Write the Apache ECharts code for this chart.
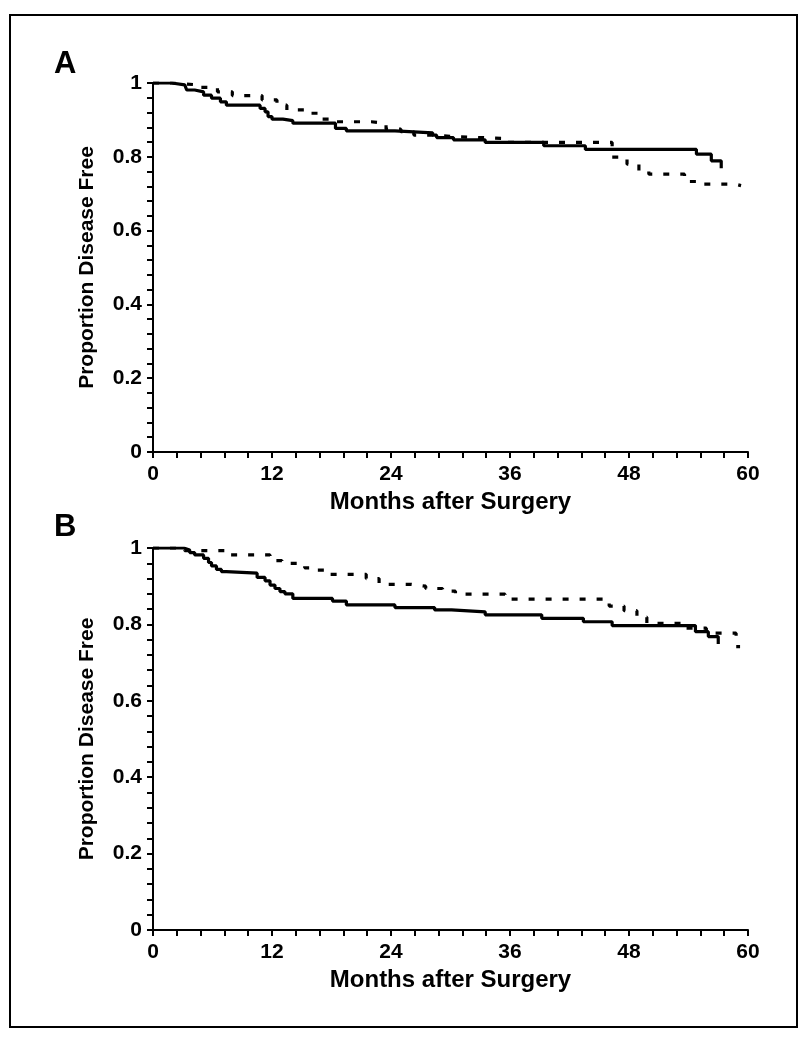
<!DOCTYPE html>
<html><head><meta charset="utf-8">
<script src="https://cdn.jsdelivr.net/npm/echarts@6/dist/echarts.min.js"></script>
<style>html,body{margin:0;padding:0;background:#fff}#c{width:807px;height:1050px}</style>
</head><body><div id="c"></div>
<script>
// Kaplan-Meier step points [month, proportion disease free]
const aSolid = [[0,1],[1.9,0.995],[3.2,0.99],[3.4,0.981],[4.2,0.976],[5.1,0.967],[5.9,0.959],[6.8,0.949],[7.4,0.94],[10.8,0.931],[11.3,0.922],[11.6,0.909],[12.0,0.902],[13.1,0.898],[14.1,0.891],[18.4,0.877],[19.5,0.87],[24.4,0.865],[28.2,0.859],[28.6,0.852],[30.3,0.846],[33.5,0.839],[39.4,0.83],[43.6,0.82],[54.8,0.807],[56.3,0.789],[57.3,0.769]];
const aDashed = [[0,1],[1.9,0.995],[4.5,0.988],[6.5,0.976],[8.0,0.966],[11.0,0.954],[12.5,0.94],[13.5,0.927],[15.5,0.918],[16.8,0.902],[18,0.895],[22,0.891],[23.5,0.875],[25,0.868],[26.3,0.859],[28,0.854],[31,0.85],[35.3,0.839],[46.3,0.799],[47.8,0.78],[49.0,0.76],[50,0.753],[53.6,0.733],[55,0.726],[58.7,0.722],[59.3,0.722]];
const bSolid = [[0,1],[3.1,0.995],[3.7,0.988],[4.2,0.982],[5.1,0.973],[5.6,0.962],[5.9,0.953],[6.4,0.944],[6.9,0.938],[7.4,0.934],[10.5,0.923],[11.3,0.914],[11.8,0.903],[12.3,0.894],[12.8,0.886],[13.3,0.88],[14.1,0.868],[18.1,0.861],[19.5,0.851],[24.4,0.844],[28.4,0.838],[30.1,0.833],[33.5,0.825],[39.2,0.816],[43.4,0.807],[46.3,0.797],[54.7,0.781],[56.0,0.768],[57.0,0.749]];
const bDashed = [[0,1],[3.2,0.993],[7.8,0.982],[11.8,0.967],[13,0.96],[15.3,0.948],[16.2,0.942],[17.5,0.931],[21.5,0.92],[22.8,0.905],[26,0.9],[27.5,0.894],[29.2,0.887],[30.5,0.879],[35.5,0.866],[46,0.848],[47.5,0.836],[48.8,0.819],[49.8,0.803],[53.5,0.79],[55.8,0.777],[58.8,0.742],[59.2,0.742]];
const panelLabels = ['A','B'];
const xTitle = 'Months after Surgery';
const yTitle = 'Proportion Disease Free';

const FONT = '"Liberation Sans", Arial, Helvetica, sans-serif';
const chart = echarts.init(document.getElementById('c'), null, {renderer:'canvas'});
const grids = [
  {left:153, top:83, width:595, height:369},
  {left:153, top:548, width:595, height:382}
];
function xAx(i){
  return {gridIndex:i, type:'value', min:0, max:60, interval:12,
    name:xTitle, nameLocation:'middle', nameGap:38,
    nameTextStyle:{color:'#000', fontSize:24, fontWeight:'bold', fontFamily:FONT},
    axisLine:{lineStyle:{color:'#000', width:2}},
    axisTick:{show:true, length:6, lineStyle:{color:'#000', width:2}},
    minorTick:{show:true, splitNumber:5, length:6, lineStyle:{color:'#000', width:2}},
    splitLine:{show:false},
    axisLabel:{color:'#000', fontSize:21, fontWeight:'bold', fontFamily:FONT, margin:12}
  };
}
function yAx(i){
  return {gridIndex:i, type:'value', min:0, max:1, interval:0.2,
    name:yTitle, nameLocation:'middle', nameGap:55,
    nameTextStyle:{color:'#000', fontSize:21, fontWeight:'bold', fontFamily:FONT},
    axisLine:{show:true, lineStyle:{color:'#000', width:2}},
    axisTick:{show:true, length:6, lineStyle:{color:'#000', width:2}},
    minorTick:{show:true, splitNumber:5, length:6, lineStyle:{color:'#000', width:2}},
    splitLine:{show:false},
    axisLabel:{color:'#000', fontSize:21, fontWeight:'bold', fontFamily:FONT, margin:11,
      formatter: v => (v===0?'0':v===1?'1':v.toFixed(1))}
  };
}
function line(i, data, dashed){
  return {type:'line', xAxisIndex:i, yAxisIndex:i, data:data, step:'end',
    symbol:'none', silent:true, animation:false,
    lineStyle:{color:'#000', width:3.2, type: dashed ? [6,11] : 'solid', cap:'butt'}};
}
chart.setOption({
  animation:false,
  backgroundColor:'#fff',
  grid: grids,
  xAxis:[xAx(0), xAx(1)],
  yAxis:[yAx(0), yAx(1)],
  series:[line(0,aDashed,true), line(0,aSolid,false), line(1,bDashed,true), line(1,bSolid,false)],
  graphic:[
    {type:'rect', shape:{x:10, y:15, width:787, height:1012}, style:{fill:'none', stroke:'#000', lineWidth:2}, silent:true},
    {type:'text', left:54, top:49, style:{text:panelLabels[0], fill:'#000', font:'bold 31px '+FONT}},
    {type:'text', left:54, top:512, style:{text:panelLabels[1], fill:'#000', font:'bold 31px '+FONT}}
  ]
});
</script></body></html>
